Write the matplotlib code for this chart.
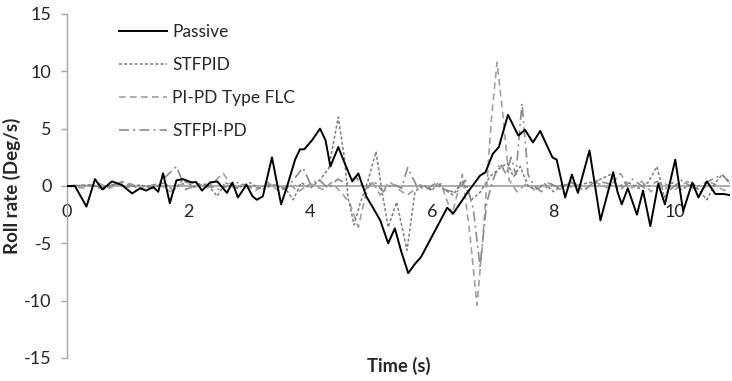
import matplotlib
matplotlib.use("Agg")
import matplotlib.pyplot as plt

plt.rcParams['font.family'] = ['Lato', 'DejaVu Sans']

# ---------------- data ----------------
passive_t = [0.0, 0.13, 0.32, 0.46, 0.58, 0.74, 0.9, 1.07, 1.2, 1.3, 1.42, 1.5, 1.58, 1.69, 1.8,
             1.91, 2.05, 2.12, 2.22, 2.35, 2.47, 2.63, 2.72, 2.81, 2.95, 3.05, 3.12, 3.22, 3.37,
             3.52, 3.62, 3.75, 3.83, 3.9, 4.03, 4.16, 4.25, 4.33, 4.46, 4.58, 4.69, 4.79, 4.92,
             5.02, 5.15, 5.28, 5.39, 5.5, 5.61, 5.72, 5.82, 5.97, 6.13, 6.25, 6.35, 6.58, 6.79,
             6.88, 7.0, 7.1, 7.25, 7.42, 7.53, 7.66, 7.78, 7.98, 8.05, 8.19, 8.3, 8.4, 8.59, 8.77,
             8.98, 9.05, 9.12, 9.22, 9.37, 9.47, 9.59, 9.72, 9.83, 10.0, 10.13, 10.28, 10.38,
             10.52, 10.66, 10.8, 10.9]
passive_v = [0.0, 0.0, -1.8, 0.6, -0.3, 0.4, 0.1, -0.65, -0.2, -0.4, -0.1, -0.5, 1.1, -1.5, 0.5,
             0.6, 0.3, 0.35, -0.4, 0.3, 0.4, -0.6, 0.3, -1.0, 0.1, -0.9, -1.2, -0.9, 2.5,
             -1.6, 0.0, 2.3, 3.2, 3.2, 4.0, 5.0, 4.0, 1.7, 3.4, 1.8, 0.4, 1.1, -0.9,
             -1.8, -3.0, -5.0, -3.7, -5.8, -7.6, -6.8, -6.2, -4.7, -3.1, -1.9, -2.4, -0.6, 0.9,
             1.2, 2.8, 3.4, 6.2, 4.4, 4.9, 3.8, 4.8, 2.5, 2.3, -1.0, 1.0, -0.6, 3.1, -3.0,
             1.2, -0.5, -1.6, -0.2, -2.5, -0.4, -3.5, 0.2, -1.6, 2.3, -2.2, 0.3, -1.0,
             0.4, -0.7, -0.7, -0.8]

stfpid_t = [0.0, 0.4, 0.6, 0.8, 1.0, 1.2, 1.4, 1.6, 1.75, 1.9, 2.1, 2.3, 2.47, 2.6, 2.8, 3.0,
            3.2, 3.4, 3.6, 3.72, 3.85, 4.0, 4.15, 4.3, 4.46, 4.56, 4.62, 4.72, 4.82, 4.95, 5.08,
            5.18, 5.28, 5.42, 5.59, 5.72, 5.85, 6.0, 6.1, 6.2, 6.35, 6.5, 6.65, 6.8, 6.95, 7.1,
            7.24, 7.34, 7.45, 7.58, 7.7, 7.85, 8.0, 8.15, 8.3, 8.5, 8.7, 8.93, 9.05, 9.2, 9.4,
            9.55, 9.7, 9.82, 9.95, 10.1, 10.3, 10.52, 10.65, 10.77, 10.9]
stfpid_v = [0.0, 0.1, -0.3, 0.2, -0.1, 0.1, -0.2, 0.3, -0.4, 0.5, -0.1, 0.2, -0.9, 0.3, -0.2, 0.3,
            -0.3, 0.1, -0.3, -1.2, 0.3, -0.2, 0.5, 1.5, 6.0, 2.5, -1.0, -3.4, -1.5, 0.5, 3.0,
            -0.5, -3.6, -1.4, -5.6, -0.5, 0.1, -0.4, 0.3, -0.3, -0.8, 0.5, -1.2, -0.5, 0.8, 1.5,
            2.0, 0.8, 1.7, 0.0, -0.3, 0.2, -0.5, 0.2, -0.1, 0.2, 0.4, 1.0, -0.2, 0.4, -0.2,
            0.3, 1.7, -1.0, 0.3, -0.3, 0.2, -1.2, 0.2, 1.0, 0.2]

pipd_t = [0.0, 0.3, 0.5, 0.7, 0.9, 1.1, 1.3, 1.5, 1.7, 1.9, 2.1, 2.3, 2.57, 2.75, 2.9, 3.1, 3.3,
          3.5, 3.65, 3.8, 4.0, 4.2, 4.35, 4.5, 4.65, 4.79, 4.9, 5.0, 5.15, 5.3, 5.45, 5.6, 5.8,
          6.0, 6.15, 6.33, 6.5, 6.62, 6.74, 6.83, 6.9, 6.98, 7.07, 7.17, 7.27, 7.4, 7.55, 7.7,
          7.9, 8.1, 8.3, 8.5, 8.7, 8.9, 9.1, 9.25, 9.45, 9.6, 9.8, 10.0, 10.2, 10.4, 10.6, 10.8,
          10.9]
pipd_v = [0.0, -0.2, 0.3, -0.2, 0.4, 0.1, -0.3, 0.2, -0.5, 0.2, 0.4, -0.2, 1.1, -0.3, 0.2, -0.4, 0.3,
          -0.5, 0.2, -0.5, 0.2, -0.3, 0.3, -0.5, -1.5, -3.6, -1.0, 0.5, -0.8, 0.4, -0.3, -0.8, 0.1,
          -0.3, 0.2, -2.5, 1.0, -4.0, -10.4, -5.0, 0.0, 6.0, 10.8, 6.0, 0.5, -0.5, 0.2, -0.4,
          0.3, -0.3, 0.4, -0.3, 0.3, -0.2, 1.1, -0.3, 0.4, -0.5, 0.3, -0.3, 0.4, -0.4, 0.3, -0.4,
          -0.2]

stfpipd_t = [0.0, 0.3, 0.6, 0.9, 1.2, 1.5, 1.8, 1.95, 2.2, 2.5, 2.8, 3.1, 3.4, 3.6, 3.88, 4.0,
             4.15, 4.3, 4.45, 4.6, 4.75, 4.9, 5.05, 5.2, 5.35, 5.5, 5.6, 5.75, 5.9, 6.05, 6.2,
             6.4, 6.55, 6.68, 6.79, 6.9, 7.0, 7.12, 7.22, 7.3, 7.38, 7.48, 7.58, 7.68, 7.8, 7.95,
             8.1, 8.3, 8.5, 8.7, 8.9, 9.1, 9.3, 9.5, 9.7, 9.9, 10.1, 10.3, 10.5, 10.77, 10.9]
stfpipd_v = [0.0, 0.1, -0.1, 0.3, -0.2, 0.2, 1.7, -0.3, 0.2, -0.3, 0.3, -0.2, 0.2, -0.3, 1.6, 0.2,
             0.5, -0.2, 0.6, 0.2, 0.8, -0.3, 0.4, -0.5, 0.2, -0.2, 1.6, 0.0, -0.3, 0.2, -0.3,
             -0.6, 0.5, -2.0, -7.0, -1.5, 0.5, 2.0, 1.0, 2.5, 1.0, 7.2, 1.0, 0.0, -0.5, 0.2,
             -0.2, 0.3, -0.4, 0.5, 0.2, -0.3, 0.6, -0.2, 0.4, -0.4, 0.5, -0.2, 0.3, 1.0, 0.3]

x_ticks = [0, 2, 4, 6, 8, 10]
y_ticks = [-15, -10, -5, 0, 5, 10, 15]

# ---------------- figure ----------------
fig = plt.figure(figsize=(7.32, 3.81), dpi=100)
ax = fig.add_axes([67/732, 1 - 358/381, 663/732, 344/381])

axis_grey = '#a6a6a6'
text_col = '#262626'
ax.axhline(0, color=axis_grey, lw=1.3, zorder=1)

ax.plot(passive_t, passive_v, color='black', lw=1.4, label='Passive', zorder=5)
ax.plot(stfpid_t, stfpid_v, color='#7f7f7f', lw=1.1, linestyle=(0, (2.0, 1.4)),
        label='STFPID', zorder=4)
ax.plot(pipd_t, pipd_v, color='#a0a0a0', lw=1.2, linestyle=(0, (4.0, 2.6)),
        label='PI-PD Type FLC', zorder=3)
ax.plot(stfpipd_t, stfpipd_v, color='#8c8c8c', lw=1.2, linestyle=(0, (6.0, 2.5, 1.2, 2.5)),
        label='STFPI-PD', zorder=3)

ax.set_xlim(0, 10.9)
ax.set_ylim(-15, 15)

for s in ['top', 'right']:
    ax.spines[s].set_visible(False)
ax.spines['left'].set_color(axis_grey)
ax.spines['left'].set_linewidth(1.0)
ax.spines['bottom'].set_visible(False)

ax.set_yticks(y_ticks)
ax.set_yticklabels([str(v) for v in y_ticks])
ax.tick_params(axis='y', direction='out', length=4, width=1, color=axis_grey,
               labelsize=13, pad=7, labelcolor=text_col)

ax.set_xticks(x_ticks)
ax.set_xticklabels([str(v) for v in x_ticks])
ax.xaxis.set_ticks_position('bottom')
ax.spines['bottom'].set_position(('data', 0))
ax.tick_params(axis='x', length=0, labelsize=13, labelcolor=text_col, pad=13)

ax.set_ylabel('Roll rate (Deg/s)', fontsize=13.5, fontweight='bold', color=text_col, labelpad=2)
fig.text(399/732, 1 - 366/381, 'Time (s)', fontsize=13.2, fontweight='bold', color=text_col,
         ha='center', va='center')

leg = ax.legend(loc='upper left', bbox_to_anchor=(110/732, 1 - 15/381),
                bbox_transform=fig.transFigure, frameon=False, fontsize=12.5,
                handlelength=2.8, handletextpad=0.3, labelspacing=0.98, borderpad=0)
for t in leg.get_texts():
    t.set_color(text_col)

fig.savefig('out.png', dpi=100)
